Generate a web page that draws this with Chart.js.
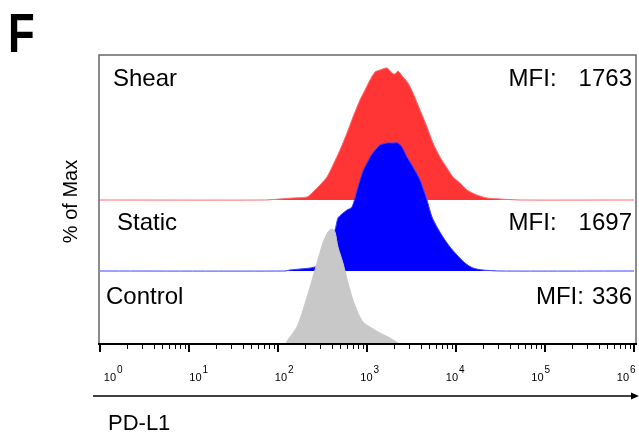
<!DOCTYPE html>
<html>
<head>
<meta charset="utf-8">
<script src="https://cdn.jsdelivr.net/npm/chart.js@4"></script>
<style>
  html, body { margin: 0; padding: 0; background: #fff; }
  #wrap { width: 639px; height: 437px; position: relative; }
</style>
</head>
<body>
<div id="wrap"><canvas id="c" width="639" height="437"></canvas></div>
<script>
// ---- data ----
const sampleNames = ['Control', 'Static', 'Shear'];
const mfiValues = [336, 1697, 1763];
const layerOffsets = [0, 73, 144];            // vertical offset of each histogram (y units)

const controlX = [1, 120, 129, 163, 191, 229, 274, 320, 364, 404, 437, 472, 537, 612, 696, 792, 902, 1081, 1400, 1813, 2064, 2348, 1e6];
const controlY = [0, 0, 4, 17, 34, 57, 81, 101, 112, 115, 112, 97, 81, 61, 44, 31, 22, 17, 11, 6, 3, 0, 0];

const staticX = [1, 120, 136, 177, 229, 274, 312, 364, 404, 437, 472, 523, 596, 678, 792, 902, 1000, 1138, 1295, 1400, 1678, 1960, 2229, 2473, 2813, 3288, 3943, 4722, 5375, 6119, 7145, 8564, 10264, 12620, 15517, 20100, 31200, 1e6];
const staticY = [0, 0, 1, 2, 3, 5, 12, 28, 36, 41, 53, 57, 61, 64, 84, 100, 108, 117, 123, 126, 128, 128, 128, 124, 114, 104, 91, 71, 54, 44, 34, 24, 16, 8, 3, 1, 0, 0];

const shearX = [1, 71, 105, 147, 212, 247, 296, 355, 415, 497, 596, 696, 834, 950, 1081, 1231, 1400, 1678, 1910, 2064, 2229, 2537, 2890, 3288, 3943, 4722, 5520, 6607, 7922, 9246, 11100, 13300, 17200, 22300, 31200, 52400, 1e6];
const shearY = [0, 0, 1, 2, 3, 8, 15, 23, 35, 50, 67, 83, 100, 110, 120, 128, 130, 132, 127, 126, 129, 123, 117, 107, 90, 73, 57, 43, 32, 23, 17, 10, 5, 2, 1, 0, 0];

const decadeTicks = [1, 10, 100, 1000, 10000, 100000, 1000000];
const decadeExponents = ['0', '1', '2', '3', '4', '5', '6'];
const yMax = 289;

const fillColors = ['#c8c8c8', '#0000ff', '#ff3535'];
const lineColors = ['#c8c8c8', '#4040ff', '#ff6a6a'];

function pts(xs, ys, off) { return xs.map((x, i) => ({ x: x, y: ys[i] + off })); }

const series = [
  pts(controlX, controlY, layerOffsets[0]),
  pts(staticX, staticY, layerOffsets[1]),
  pts(shearX, shearY, layerOffsets[2])
];

// gray first so it is drawn on top, red last (behind)
const datasets = [0, 1, 2].map(i => ({
  label: sampleNames[i],
  data: series[i],
  borderColor: lineColors[i],
  backgroundColor: fillColors[i],
  borderWidth: 1,
  pointRadius: 0,
  tension: 0.25,
  fill: { value: layerOffsets[i] }
}));

const FONT = '"Liberation Sans", Arial, sans-serif';

const decor = {
  id: 'decor',
  afterDraw(chart) {
    const ctx = chart.ctx;
    const xs = chart.scales.x;
    const a = chart.chartArea;
    ctx.save();
    // frame
    ctx.strokeStyle = '#666';
    ctx.lineWidth = 1.5;
    ctx.beginPath();
    ctx.moveTo(a.left - 1, a.bottom);
    ctx.lineTo(a.left - 1, a.top);
    ctx.lineTo(a.right + 2, a.top);
    ctx.lineTo(a.right + 2, a.bottom);
    ctx.stroke();
    // x axis line
    ctx.strokeStyle = '#000';
    ctx.lineWidth = 2;
    ctx.beginPath();
    ctx.moveTo(a.left - 2, a.bottom);
    ctx.lineTo(a.right + 3, a.bottom);
    ctx.stroke();
    // ticks
    for (let d = 0; d < decadeTicks.length; d++) {
      const base = decadeTicks[d];
      const px = Math.round(xs.getPixelForValue(base));
      ctx.lineWidth = 2;
      ctx.beginPath(); ctx.moveTo(px, a.bottom); ctx.lineTo(px, a.bottom + 8); ctx.stroke();
      if (d < decadeTicks.length - 1) {
        ctx.lineWidth = 1;
        for (let m = 2; m <= 9; m++) {
          const mx = Math.round(xs.getPixelForValue(base * m)) + 0.5;
          ctx.beginPath(); ctx.moveTo(mx, a.bottom); ctx.lineTo(mx, a.bottom + 5); ctx.stroke();
        }
      }
    }
    // tick labels 10^n
    ctx.fillStyle = '#000';
    ctx.textBaseline = 'alphabetic';
    for (let d = 0; d < decadeTicks.length; d++) {
      const px = xs.getPixelForValue(decadeTicks[d]);
      const cx = px + 13 - d * 3.5;
      ctx.font = '11px ' + FONT;
      ctx.textAlign = 'right';
      ctx.fillText('10', cx + 3, a.bottom + 37);
      ctx.font = '10px ' + FONT;
      ctx.textAlign = 'left';
      ctx.fillText(decadeExponents[d], cx + 4, a.bottom + 29);
    }
    // arrow
    const ay = a.bottom + 52;
    ctx.lineWidth = 1.5;
    ctx.beginPath(); ctx.moveTo(a.left - 7, ay); ctx.lineTo(a.right, ay); ctx.stroke();
    ctx.beginPath();
    ctx.moveTo(a.right + 5, ay); ctx.lineTo(a.right - 3, ay - 3.5); ctx.lineTo(a.right - 3, ay + 3.5); ctx.closePath();
    ctx.fill();
    // axis title
    ctx.font = '22px ' + FONT;
    ctx.textAlign = 'left';
    ctx.fillText('PD-L1', a.left + 8, a.bottom + 86);
    // y title
    ctx.save();
    ctx.translate(77, (a.top + a.bottom) / 2 + 2);
    ctx.rotate(-Math.PI / 2);
    ctx.textAlign = 'center';
    ctx.font = '20px ' + FONT;
    ctx.fillText('% of Max', 0, 0);
    ctx.restore();
    // panel letter
    ctx.save();
    ctx.translate(8, 52);
    ctx.scale(0.95, 1.22);
    ctx.font = 'bold 46px ' + FONT;
    ctx.textAlign = 'left';
    ctx.fillText('F', 0, 0);
    ctx.restore();
    // sample labels and MFI
    ctx.font = '24px ' + FONT;
    const nameX = [a.left + 6, a.left + 17, a.left + 13];
    const nameBase = [304, 230, 86];
    for (let i = 0; i < 3; i++) {
      ctx.textAlign = 'left';
      ctx.fillText(sampleNames[i], nameX[i], nameBase[i]);
      const num = String(mfiValues[i]);
      ctx.textAlign = 'right';
      ctx.fillText(num, a.right - 2, nameBase[i]);
      const numW = ctx.measureText(num).width;
      const gap = num.length > 3 ? 22 : 8;
      ctx.fillText('MFI:', a.right - 2 - numW - gap, nameBase[i]);
    }
    ctx.restore();
  }
};

new Chart(document.getElementById('c'), {
  type: 'line',
  data: { datasets: datasets },
  options: {
    responsive: false,
    animation: false,
    devicePixelRatio: 1,
    layout: { padding: { left: 100, right: 5, top: 55, bottom: 93 } },
    plugins: { legend: { display: false }, tooltip: { enabled: false } },
    scales: {
      x: { type: 'logarithmic', min: 1, max: 1e6, display: false },
      y: { type: 'linear', min: 0, max: yMax, display: false }
    }
  },
  plugins: [decor]
});
</script>
</body>
</html>
